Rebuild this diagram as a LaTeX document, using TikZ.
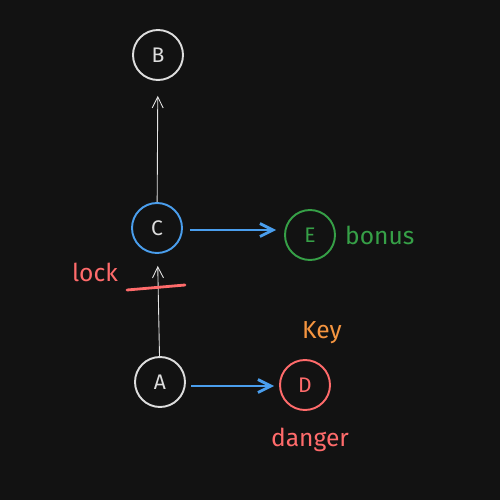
\documentclass[tikz,border=0pt]{standalone}
\usepackage{fontspec}
\setmainfont{Fira Sans}
\usetikzlibrary{arrows.meta, positioning}
\definecolor{bgcol}{HTML}{121212}
\definecolor{inkcol}{HTML}{DDDDDD}
\definecolor{bluecol}{HTML}{4A9EED}
\definecolor{greencol}{HTML}{36A047}
\definecolor{redcol}{HTML}{FF6B6B}
\definecolor{orangecol}{HTML}{F59540}
\tikzset{
  vtx/.style={circle, draw=inkcol, line width=1.1pt, minimum size=50\pxu,
    inner sep=0pt, text=inkcol, font=\fontsize{12}{14}\selectfont},
  vtxB/.style={vtx, draw=bluecol},
  vtxG/.style={vtx, draw=greencol, text=greencol},
  vtxR/.style={vtx, draw=redcol, text=redcol},
  lbl/.style={font=\fontsize{14}{16}\selectfont},
  arrT/.style={-{Straight Barb[length=2.2mm, width=2.2mm]}, draw=inkcol!80, line width=0.5pt},
  arrB/.style={-{Straight Barb[length=2.6mm, width=2.6mm]}, draw=bluecol, line width=1.6pt},
}
\newlength{\pxu}
\setlength{\pxu}{0.02cm}
\begin{document}
\begin{tikzpicture}[x=0.02cm, y=-0.02cm]
  \fill[bgcol] (0,0) rectangle (500,500);
  \useasboundingbox (0,0) rectangle (500,500);

  % nodes
  \node[vtx]  (B) at (158,55)  {B};
  \node[vtxB] (C) at (157,228) {C};
  \node[vtxG] (E) at (310,235) {E};
  \node[vtx]  (A) at (160,382) {A};
  \node[vtxR] (D) at (305,385) {D};

  % labels
  \node[lbl, text=greencol, right=3\pxu of E] (bonus) {bonus};
  \node[lbl, text=redcol] (lock) at (95,272) {lock};
  \node[lbl, text=orangecol] (key) at (322,333) {Key};
  \node[lbl, text=redcol] (danger) at (310,440) {danger};

  % edges
  \draw[arrT, shorten >=15\pxu] (C) -- (B);
  \draw[arrT, shorten >=12\pxu] (A) -- (C);
  \coordinate (ce) at ([yshift=-2\pxu]C.east);
  \draw[arrB, shorten <=7\pxu, shorten >=8\pxu] (ce) -- (E.west |- ce);
  \coordinate (ae) at ([yshift=-4\pxu]A.east);
  \draw[arrB, shorten <=5\pxu, shorten >=5\pxu] (ae) -- (D.west |- ae);

  % strike under lock
  \coordinate (s1) at (127,290);
  \coordinate (s2) at (185,285);
  \draw[redcol, line width=1.6pt, line cap=round] (s1) -- (s2);
\end{tikzpicture}
\end{document}
